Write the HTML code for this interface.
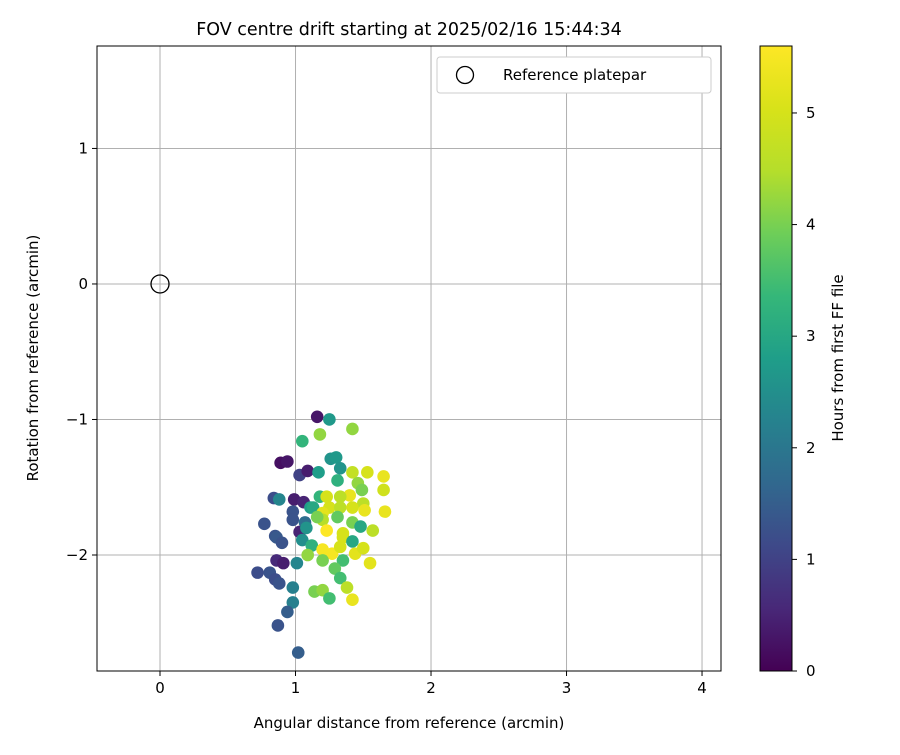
<!DOCTYPE html>
<html><head><meta charset="utf-8"><style>
body{margin:0;background:#fff;font-family:"Liberation Sans","DejaVu Sans",sans-serif}
svg text{font-family:"DejaVu Sans","Liberation Sans",sans-serif;fill:#000}
</style></head><body>
<svg id="chart" width="900" height="750" viewBox="0 0 900 750">
<defs>
<linearGradient id="vir" x1="0" y1="1" x2="0" y2="0">
<stop offset="0" stop-color="#440154"/><stop offset="0.1" stop-color="#482878"/>
<stop offset="0.2" stop-color="#3e4989"/><stop offset="0.3" stop-color="#31688e"/>
<stop offset="0.4" stop-color="#26828e"/><stop offset="0.5" stop-color="#1f9e89"/>
<stop offset="0.6" stop-color="#35b779"/><stop offset="0.7" stop-color="#6ece58"/>
<stop offset="0.8" stop-color="#b5de2b"/><stop offset="0.9" stop-color="#d8e219"/>
<stop offset="1" stop-color="#fde725"/></linearGradient>
</defs>
<g id="grid"></g>
<g id="points"></g>
<g id="axes"></g>
<text x="409" y="35" font-size="17.5" text-anchor="middle">FOV centre drift starting at 2025/02/16 15:44:34</text>
<text x="409" y="728" font-size="15" text-anchor="middle">Angular distance from reference (arcmin)</text>
<text x="38" y="358" font-size="15" text-anchor="middle" transform="rotate(-90 38 358)">Rotation from reference (arcmin)</text>
<g>
<rect x="437" y="57" width="274" height="36" rx="3" fill="#fff" stroke="#ccc"/>
<circle cx="465" cy="75" r="8.5" fill="none" stroke="#000" stroke-width="1.3"/>
<text x="503" y="80" font-size="15">Reference platepar</text>
</g>
<rect x="760" y="46" width="32" height="625" fill="url(#vir)" stroke="#000" stroke-width="1"/>
<g id="cbticks"></g>
<text x="843" y="358" font-size="15" text-anchor="middle" transform="rotate(-90 843 358)">Hours from first FF file</text>
</svg>
<script>
const xs=[1.16,1.25,1.42,1.18,1.05,0.89,0.94,1.26,1.30,1.33,1.03,1.09,1.17,1.31,1.42,1.53,1.65,1.46,1.49,1.65,0.84,0.88,0.99,1.06,1.11,1.18,1.23,1.40,1.33,1.50,1.66,1.51,0.98,1.13,1.25,1.20,1.33,1.42,0.98,0.77,1.07,1.20,1.16,1.31,1.42,1.48,1.57,1.23,1.35,0.85,1.03,1.08,0.86,0.90,1.05,1.12,1.20,1.27,1.09,1.33,1.35,1.42,1.44,1.50,1.55,1.20,1.35,0.86,0.91,1.01,0.72,0.81,0.85,0.88,1.29,1.33,0.98,1.38,1.14,1.20,1.25,1.42,0.98,0.94,0.87,1.02];
const ys=[-0.98,-1.00,-1.07,-1.11,-1.16,-1.32,-1.31,-1.29,-1.28,-1.36,-1.41,-1.38,-1.39,-1.45,-1.39,-1.39,-1.42,-1.47,-1.52,-1.52,-1.58,-1.59,-1.59,-1.61,-1.65,-1.57,-1.57,-1.56,-1.57,-1.62,-1.68,-1.67,-1.68,-1.65,-1.65,-1.69,-1.65,-1.65,-1.74,-1.77,-1.76,-1.74,-1.72,-1.72,-1.76,-1.79,-1.82,-1.82,-1.84,-1.86,-1.83,-1.80,-1.87,-1.91,-1.89,-1.93,-1.96,-1.99,-2.00,-1.94,-1.87,-1.90,-1.99,-1.95,-2.06,-2.04,-2.04,-2.04,-2.06,-2.06,-2.13,-2.13,-2.18,-2.21,-2.10,-2.17,-2.24,-2.24,-2.27,-2.26,-2.32,-2.33,-2.35,-2.42,-2.52,-2.72];
const hours=[0.3,2.7,4.2,4.2,3.3,0.2,0.3,2.6,2.7,2.6,1.0,0.4,2.8,3.2,4.7,5.0,5.3,4.2,4.0,4.9,1.2,2.3,0.4,0.5,2.8,3.3,5.0,5.3,4.6,4.6,5.3,5.3,1.3,3.0,5.0,5.2,4.6,5.0,1.3,1.3,1.8,4.5,4.0,3.8,4.0,3.0,4.6,5.6,5.0,1.3,0.5,2.6,1.4,1.3,2.5,3.2,5.5,5.5,4.2,5.0,5.0,3.0,5.2,5.0,5.2,4.0,3.5,0.6,0.4,2.3,1.2,1.3,1.2,1.3,3.8,3.5,2.2,4.6,4.0,4.2,3.5,5.3,2.2,1.5,1.3,1.5];
const xTicks=[0,1,2,3,4];
const yTicks=[1,0,-1,-2];
const cTicks=[0,1,2,3,4,5];
const X0=97,X1=721,Y0=46,Y1=671,xmin=-0.465,xmax=4.14,ymin=-2.856,ymax=1.756,cmax=5.6;
const sx=v=>X0+(v-xmin)/(xmax-xmin)*(X1-X0);
const sy=v=>Y1-(v-ymin)/(ymax-ymin)*(Y1-Y0);
const NS='http://www.w3.org/2000/svg';
function mk(t,a,p){const e=document.createElementNS(NS,t);for(const k in a)e.setAttribute(k,a[k]);p.appendChild(e);return e;}
const vstops=[[68,1,84],[72,40,120],[62,73,137],[49,104,142],[38,130,142],[31,158,137],[53,183,121],[110,206,88],[181,222,43],[216,226,25],[253,231,37]];
function vir(t){t=Math.max(0,Math.min(1,t))*10;const i=Math.min(9,Math.floor(t)),f=t-i,a=vstops[i],b=vstops[i+1];return 'rgb('+a.map((v,k)=>Math.round(v+(b[k]-v)*f)).join(',')+')';}
const grid=document.getElementById('grid'),axes=document.getElementById('axes'),pts=document.getElementById('points'),cb=document.getElementById('cbticks');
xTicks.forEach(t=>{const x=sx(t);
const g=mk('line',{x1:x,x2:x,y1:Y0,y2:Y1,stroke:'#b0b0b0','stroke-width':1},grid);
const tk=mk('line',{x1:x,x2:x,y1:Y1,y2:Y1+5,stroke:'#000'},axes);
const l=mk('text',{x:x,y:Y1+22,'font-size':15,'text-anchor':'middle'},axes);l.textContent=t;});
yTicks.forEach(t=>{const y=sy(t);
const g=mk('line',{x1:X0,x2:X1,y1:y,y2:y,stroke:'#b0b0b0','stroke-width':1},grid);
const tk=mk('line',{x1:X0-5,x2:X0,y1:y,y2:y,stroke:'#000'},axes);
const l=mk('text',{x:X0-9,y:y+5,'font-size':15,'text-anchor':'end'},axes);l.textContent=t<0?'\u2212'+(-t):t;});
const fr=mk('rect',{x:X0,y:Y0,width:X1-X0,height:Y1-Y0,fill:'none',stroke:'#000','stroke-width':1},axes);
xs.forEach((v,i)=>{const c=mk('circle',{cx:sx(v),cy:sy(ys[i]),r:6.3,fill:vir(hours[i]/cmax)},pts);});
const ref=mk('circle',{cx:sx(0),cy:sy(0),r:9,fill:'none',stroke:'#000','stroke-width':1.3},pts);
cTicks.forEach(t=>{const y=Y1-t/cmax*(Y1-Y0);
const tk=mk('line',{x1:792,x2:797,y1:y,y2:y,stroke:'#000'},cb);
const l=mk('text',{x:806,y:y+5,'font-size':15},cb);l.textContent=t;});
</script>
</body></html>
